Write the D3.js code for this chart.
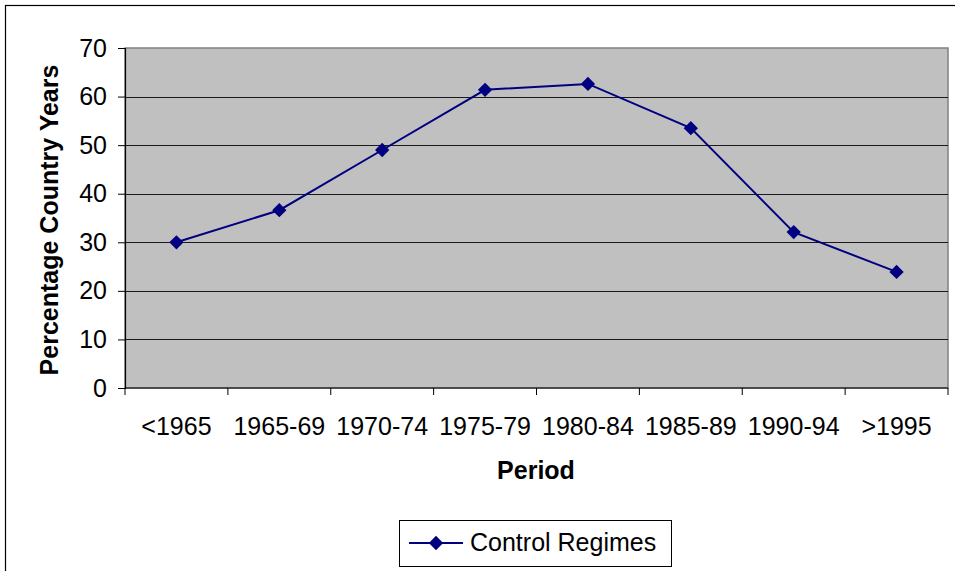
<!DOCTYPE html>
<html>
<head>
<meta charset="utf-8">
<script src="https://d3js.org/d3.v7.min.js"></script>
<style>
  body { margin: 0; background: #fff; }
  svg text { font-family: "Liberation Sans", Arial, sans-serif; }
</style>
</head>
<body>
<div id="chart"></div>
<script>
// data
const periods = ["<1965", "1965-69", "1970-74", "1975-79", "1980-84", "1985-89", "1990-94", ">1995"];
const controlRegimes = [30.0, 36.6, 49.0, 61.4, 62.6, 53.5, 32.1, 23.9];
const yTicks = [0, 10, 20, 30, 40, 50, 60, 70];

const width = 955, height = 571;
const plot = {left: 125, top: 48, right: 948, bottom: 388};
const fontSize = 25;

const svg = d3.select("#chart").append("svg")
    .attr("width", width)
    .attr("height", height);

// outer chart frame
svg.append("rect")
    .attr("x", 5.5).attr("y", 5.5)
    .attr("width", width + 10).attr("height", height + 10)
    .attr("fill", "#fff")
    .attr("stroke", "#000")
    .attr("stroke-width", 1.2);

const x = d3.scaleBand()
    .domain(periods)
    .range([plot.left, plot.right]);

const y = d3.scaleLinear()
    .domain([0, 70])
    .range([plot.bottom, plot.top]);

// plot background
svg.append("rect")
    .attr("x", plot.left).attr("y", plot.top)
    .attr("width", plot.right - plot.left)
    .attr("height", plot.bottom - plot.top)
    .attr("fill", "#c0c0c0")
    .attr("stroke", "#808080")
    .attr("stroke-width", 1.5);

// gridlines
svg.append("g")
    .selectAll("line")
    .data(yTicks.filter(d => d > 0 && d < 70))
    .join("line")
    .attr("x1", plot.left).attr("x2", plot.right)
    .attr("y1", d => Math.round(y(d)) + 0.5)
    .attr("y2", d => Math.round(y(d)) + 0.5)
    .attr("stroke", "#1a1a1a")
    .attr("stroke-width", 1);

// y axis
const yAxis = svg.append("g")
    .attr("transform", `translate(${plot.left},0)`)
    .call(d3.axisLeft(y).tickValues(yTicks).tickSize(7).tickPadding(11));
yAxis.select(".domain").attr("stroke", "#000").attr("stroke-width", 1.2);
yAxis.selectAll(".tick line").attr("stroke", "#000");
yAxis.selectAll("text")
    .attr("font-size", fontSize)
    .attr("fill", "#000")
    .attr("font-family", "Liberation Sans, Arial, sans-serif");

// x axis: ticks at the band boundaries
const boundaries = periods.map(p => x(p)).concat([plot.right]);
const xAxisG = svg.append("g");
xAxisG.append("line")
    .attr("x1", plot.left).attr("x2", plot.right)
    .attr("y1", plot.bottom).attr("y2", plot.bottom)
    .attr("stroke", "#000").attr("stroke-width", 1.2);
xAxisG.selectAll(".xt")
    .data(boundaries)
    .join("line")
    .attr("class", "xt")
    .attr("x1", d => d).attr("x2", d => d)
    .attr("y1", plot.bottom).attr("y2", plot.bottom + 7)
    .attr("stroke", "#000");
xAxisG.selectAll(".xl")
    .data(periods)
    .join("text")
    .attr("class", "xl")
    .attr("x", d => x(d) + x.bandwidth() / 2)
    .attr("y", 435)
    .attr("text-anchor", "middle")
    .attr("font-size", fontSize)
    .text(d => d);

// axis titles
svg.append("text")
    .attr("x", 536).attr("y", 479)
    .attr("text-anchor", "middle")
    .attr("font-size", fontSize)
    .attr("font-weight", "bold")
    .text("Period");

svg.append("text")
    .attr("transform", `translate(58,220) rotate(-90)`)
    .attr("text-anchor", "middle")
    .attr("font-size", fontSize)
    .attr("font-weight", "bold")
    .text("Percentage Country Years");

// series
const navy = "#000080";
const line = d3.line()
    .x((d, i) => x(periods[i]) + x.bandwidth() / 2)
    .y(d => y(d));

svg.append("path")
    .datum(controlRegimes)
    .attr("d", line)
    .attr("fill", "none")
    .attr("stroke", navy)
    .attr("stroke-width", 2);

const diamond = d3.symbol().type(d3.symbolDiamond2).size(130);

svg.append("g")
    .selectAll("path")
    .data(controlRegimes)
    .join("path")
    .attr("d", diamond)
    .attr("transform", (d, i) => `translate(${x(periods[i]) + x.bandwidth() / 2},${y(d)})`)
    .attr("fill", navy);

// legend
const legend = svg.append("g");
legend.append("rect")
    .attr("x", 399.5).attr("y", 520.5)
    .attr("width", 272).attr("height", 46)
    .attr("fill", "#fff")
    .attr("stroke", "#000")
    .attr("stroke-width", 1);
legend.append("line")
    .attr("x1", 409).attr("x2", 463)
    .attr("y1", 543).attr("y2", 543)
    .attr("stroke", navy).attr("stroke-width", 2);
legend.append("path")
    .attr("d", diamond)
    .attr("transform", "translate(436,543)")
    .attr("fill", navy);
legend.append("text")
    .attr("x", 470).attr("y", 551)
    .attr("font-size", fontSize)
    .text("Control Regimes");
</script>
</body>
</html>
